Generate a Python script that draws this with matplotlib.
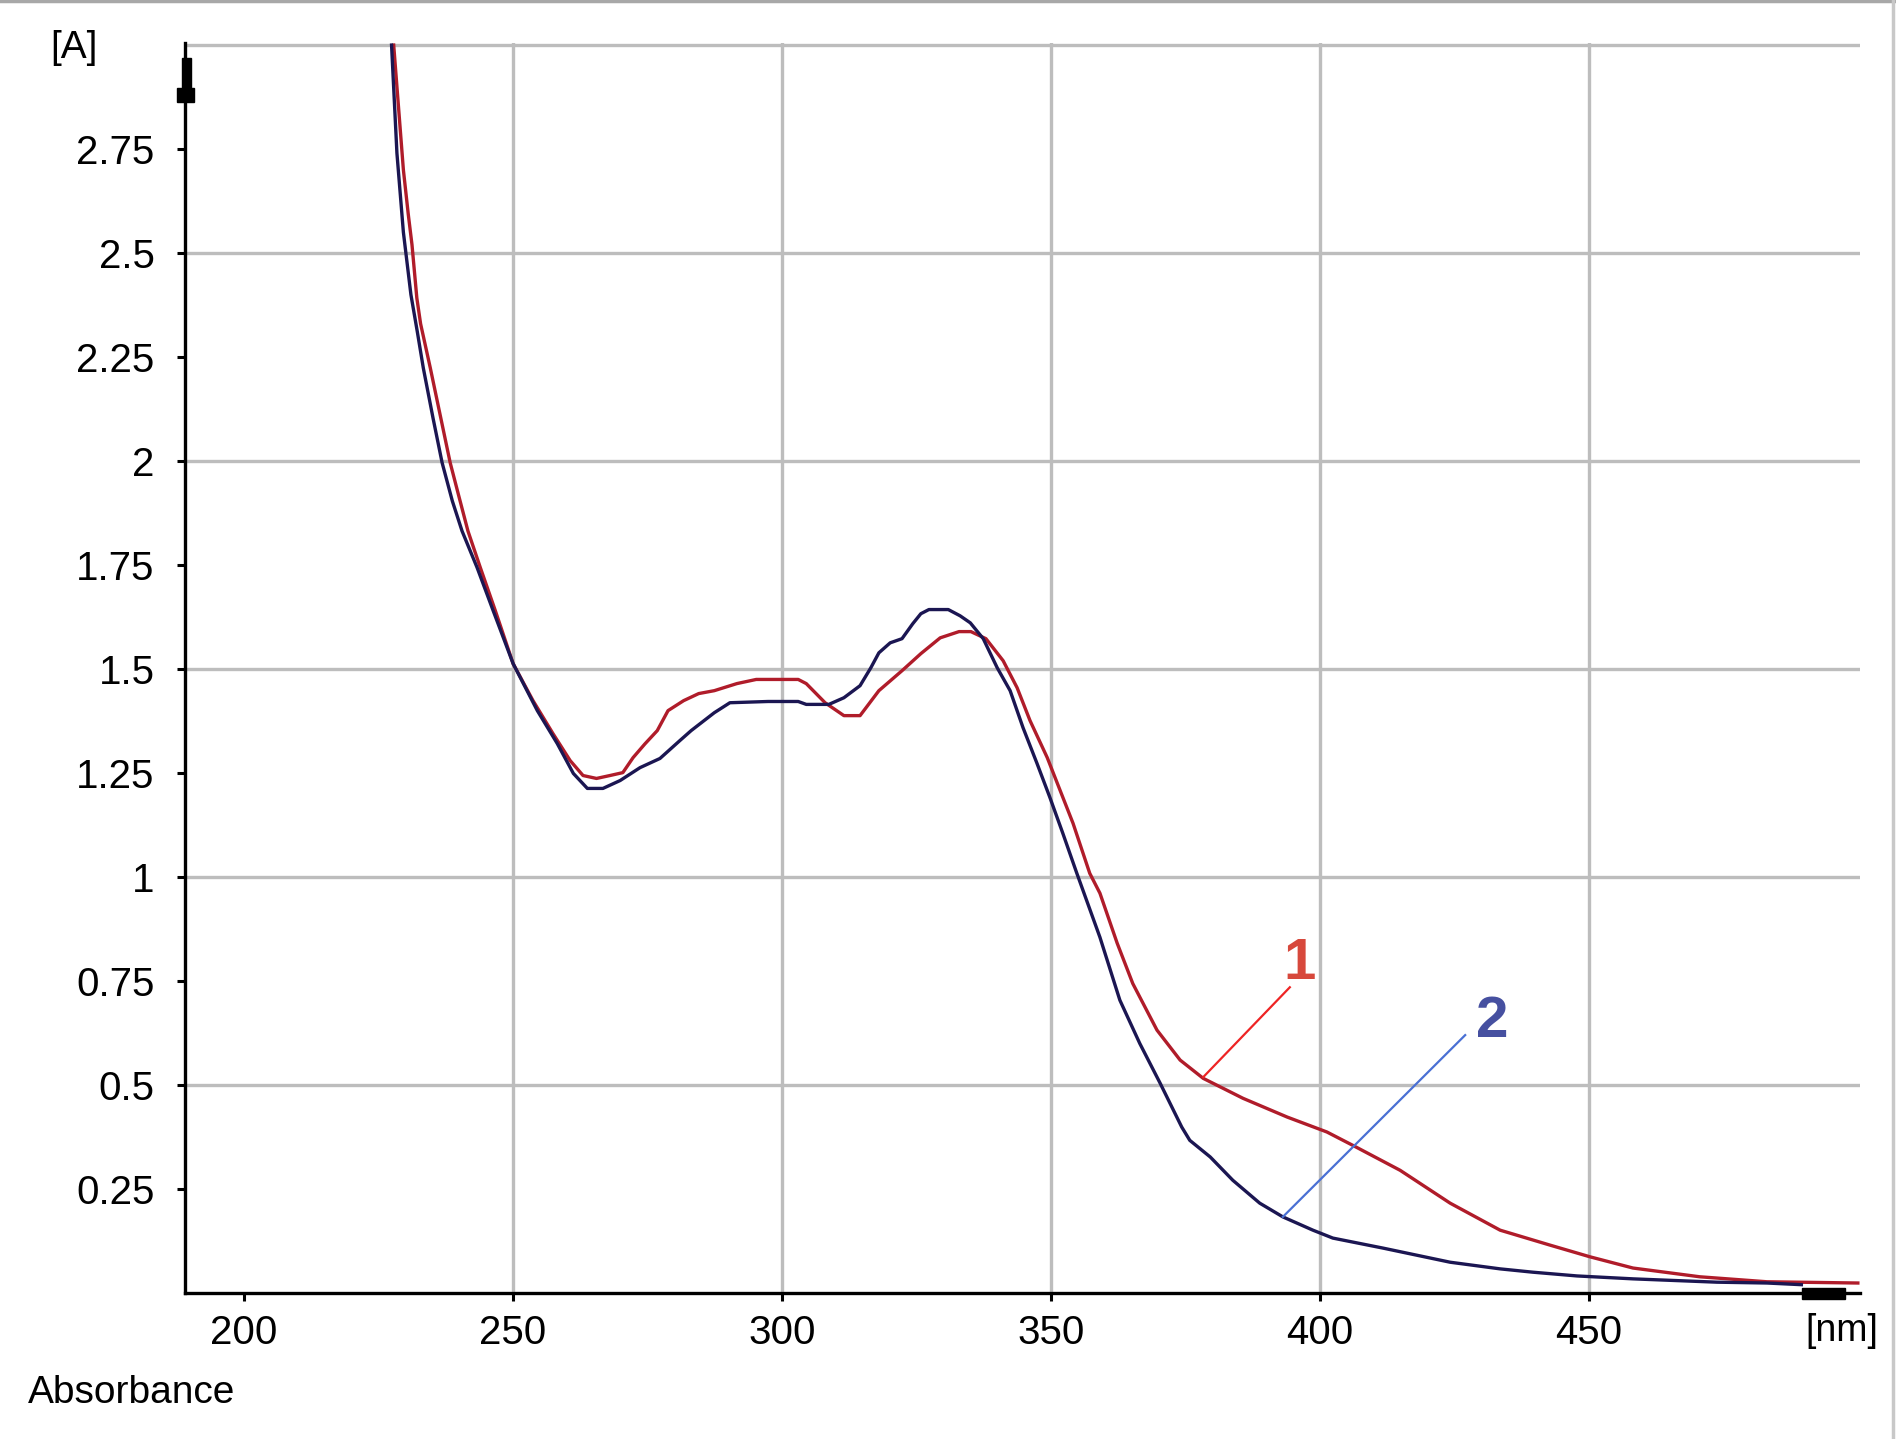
import matplotlib
matplotlib.use("Agg")
import matplotlib.pyplot as plt
from matplotlib import font_manager
from matplotlib.lines import Line2D
from matplotlib.patches import Rectangle


# curve 1 (red)
WAVELENGTH_1 = [227.8, 228.7, 229.6, 230.5, 231.2, 232.1, 232.8, 234.6, 236.4, 238.3,
                239.8, 241.6, 243.9, 246.7, 250.0, 253.7, 257.4, 260.6, 263.0, 265.5,
                268.0, 270.4, 272.3, 274.5, 276.8, 278.8, 281.7, 284.5, 287.4, 291.6,
                295.2, 303.0, 304.5, 308.0, 311.5, 314.5, 318.0, 322.3, 325.8, 329.4,
                332.9, 335.1, 337.9, 341.1, 343.7, 346.1, 349.3, 351.7, 354.1, 357.2,
                359.1, 362.3, 365.2, 369.7, 374.0, 378.3, 385.7, 393.9, 401.3, 406.1,
                414.9, 424.2, 433.5, 442.8, 450.2, 458.2, 470.6, 483.1, 500.0]
ABSORBANCE_1 = [3.0, 2.85, 2.70, 2.594, 2.52, 2.392, 2.33, 2.224, 2.113, 1.996,
                1.921, 1.832, 1.744, 1.64, 1.513, 1.424, 1.345, 1.28, 1.244, 1.237,
                1.244, 1.251, 1.287, 1.32, 1.352, 1.40, 1.424, 1.441, 1.448, 1.465,
                1.475, 1.475, 1.465, 1.419, 1.388, 1.388, 1.448, 1.496, 1.537, 1.575,
                1.59, 1.59, 1.573, 1.52, 1.455, 1.376, 1.287, 1.208, 1.129, 1.009,
                0.961, 0.841, 0.744, 0.632, 0.560, 0.516, 0.468, 0.423, 0.387, 0.355,
                0.295, 0.216, 0.151, 0.115, 0.087, 0.060, 0.039, 0.027, 0.024]

# curve 2 (navy)
WAVELENGTH_2 = [227.4, 228.4, 229.6, 231.0, 232.2, 233.3, 235.1, 236.8, 238.7, 240.5,
                243.3, 246.3, 250.0, 254.5, 258.2, 261.2, 263.8, 266.7, 269.9, 273.6,
                277.3, 281.0, 283.1, 287.4, 290.3, 297.4, 303.0, 304.5, 308.7, 311.5,
                314.5, 316.5, 318.0, 320.1, 322.3, 324.3, 325.8, 327.3, 330.9, 333.1,
                335.0, 337.4, 340.0, 342.4, 344.8, 347.4, 349.8, 352.2, 354.8, 359.1,
                362.8, 366.5, 370.3, 374.3, 375.8, 379.6, 383.8, 388.8, 393.1, 398.7,
                402.4, 411.7, 424.2, 433.5, 439.6, 447.8, 458.2, 473.8, 483.1, 489.5]
ABSORBANCE_2 = [3.0, 2.74, 2.55, 2.40, 2.31, 2.224, 2.104, 1.996, 1.904, 1.832,
                1.744, 1.64, 1.513, 1.40, 1.321, 1.249, 1.213, 1.213, 1.232, 1.263,
                1.285, 1.328, 1.352, 1.395, 1.419, 1.422, 1.422, 1.415, 1.415, 1.431,
                1.46, 1.503, 1.539, 1.563, 1.573, 1.609, 1.633, 1.643, 1.643, 1.628,
                1.611, 1.573, 1.503, 1.448, 1.359, 1.273, 1.191, 1.105, 1.009, 0.855,
                0.704, 0.600, 0.504, 0.399, 0.367, 0.327, 0.271, 0.216, 0.183, 0.151,
                0.132, 0.108, 0.074, 0.058, 0.050, 0.041, 0.034, 0.026, 0.024, 0.020]

X_TICKS = [200, 250, 300, 350, 400, 450]
X_GRID = [250, 300, 350, 400, 450]
Y_TICKS = [0.25, 0.5, 0.75, 1.0, 1.25, 1.5, 1.75, 2.0, 2.25, 2.5, 2.75]
Y_TICK_LABELS = ["0.25", "0.5", "0.75", "1", "1.25", "1.5", "1.75", "2", "2.25", "2.5", "2.75"]
Y_GRID = [0.5, 1.0, 1.5, 2.0, 2.5, 3.0]

# curve labels: text, label position, leader start, point on curve
LABELS = ["1", "2"]
LABEL_POS = [(396.3, 0.792), (432.0, 0.651)]
LEADER_START = [(394.4, 0.735), (427.0, 0.620)]
LEADER_END = [(378.3, 0.519), (393.1, 0.183)]

RED = "#b01c2a"
NAVY = "#1b1652"
LABEL_COLORS = ["#d7483c", "#4650a0"]
LEADER_COLORS = ["#ee2424", "#4a70d4"]
GRID_COLOR = "#bdbdbd"

W, H = 1896, 1439


def fx(px):
    return px / W


def fy(py):
    return 1 - py / H


def main():
    installed = {f.name for f in font_manager.fontManager.ttflist}
    if "Liberation Sans Narrow" in installed:
        tick_family, tick_size = "Liberation Sans Narrow", 33
    else:
        tick_family, tick_size = "Liberation Sans", 29
    plt.rcParams["font.family"] = ["Liberation Sans", "DejaVu Sans"]

    fig = plt.figure(figsize=(W / 100, H / 100), dpi=100)
    ax = fig.add_axes([fx(185), fy(1293), fx(1860) - fx(185), fy(43) - fy(1293)])

    ax.plot(WAVELENGTH_1, ABSORBANCE_1, color=RED, linewidth=2.4, zorder=3)
    ax.plot(WAVELENGTH_2, ABSORBANCE_2, color=NAVY, linewidth=2.4, zorder=3)

    for text, pos, start, end, tc, lc in zip(LABELS, LABEL_POS, LEADER_START, LEADER_END,
                                             LABEL_COLORS, LEADER_COLORS):
        ax.plot([start[0], end[0]], [start[1], end[1]], color=lc, linewidth=1.6, zorder=4)
        ax.text(pos[0], pos[1], text, color=tc, fontsize=42, fontweight="bold",
                ha="center", va="center", zorder=5)

    ax.set_xlim(189.0, 500.4)
    ax.set_ylim(0, 3.005)

    ax.set_xticks(X_TICKS)
    ax.set_xticklabels([str(v) for v in X_TICKS])
    ax.set_yticks(Y_TICKS)
    ax.set_yticklabels(Y_TICK_LABELS)
    ax.set_xticks(X_GRID, minor=True)
    ax.set_yticks(Y_GRID, minor=True)
    ax.xaxis.remove_overlapping_locs = False
    ax.yaxis.remove_overlapping_locs = False
    ax.grid(False, which="major")
    ax.grid(True, which="minor", color=GRID_COLOR, linewidth=2.4)
    ax.set_axisbelow(True)

    ax.tick_params(which="major", direction="out", length=5.8, width=2.2, color="black")
    ax.tick_params(which="minor", length=0)
    ax.tick_params(axis="y", which="major", pad=16)
    ax.tick_params(axis="x", which="major", pad=9)
    for lab in ax.get_xticklabels() + ax.get_yticklabels():
        lab.set_family(tick_family)
        lab.set_fontsize(tick_size)

    for side in ["top", "right"]:
        ax.spines[side].set_visible(False)
    for side in ["left", "bottom"]:
        ax.spines[side].set_linewidth(2.4)
        ax.spines[side].set_color("black")

    # axis end markers
    fig.add_artist(Rectangle((fx(182), fy(88)), fx(191) - fx(182), fy(58) - fy(88),
                             transform=fig.transFigure, color="black", zorder=10))
    fig.add_artist(Rectangle((fx(177), fy(102)), fx(194) - fx(177), fy(88) - fy(102),
                             transform=fig.transFigure, color="black", zorder=10))
    fig.add_artist(Rectangle((fx(1802), fy(1299)), fx(1845) - fx(1802), fy(1288) - fy(1299),
                             transform=fig.transFigure, color="black", zorder=10))

    fig.text(fx(50), fy(30), "[A]", fontsize=28, ha="left", va="top")
    fig.text(fx(1805), fy(1313), "[nm]", fontsize=27, ha="left", va="top")
    fig.text(fx(28), fy(1403), "Absorbance", fontsize=28, ha="left", va="baseline")

    # window frame
    fig.add_artist(Line2D([0, 1], [fy(1), fy(1)], transform=fig.transFigure,
                          color="#a8a8a8", linewidth=2.5))
    fig.add_artist(Line2D([fx(1893), fx(1893)], [0, 1], transform=fig.transFigure,
                          color="#c8c8c8", linewidth=2.5))

    fig.savefig("out.png", dpi=100)


if __name__ == "__main__":
    main()
